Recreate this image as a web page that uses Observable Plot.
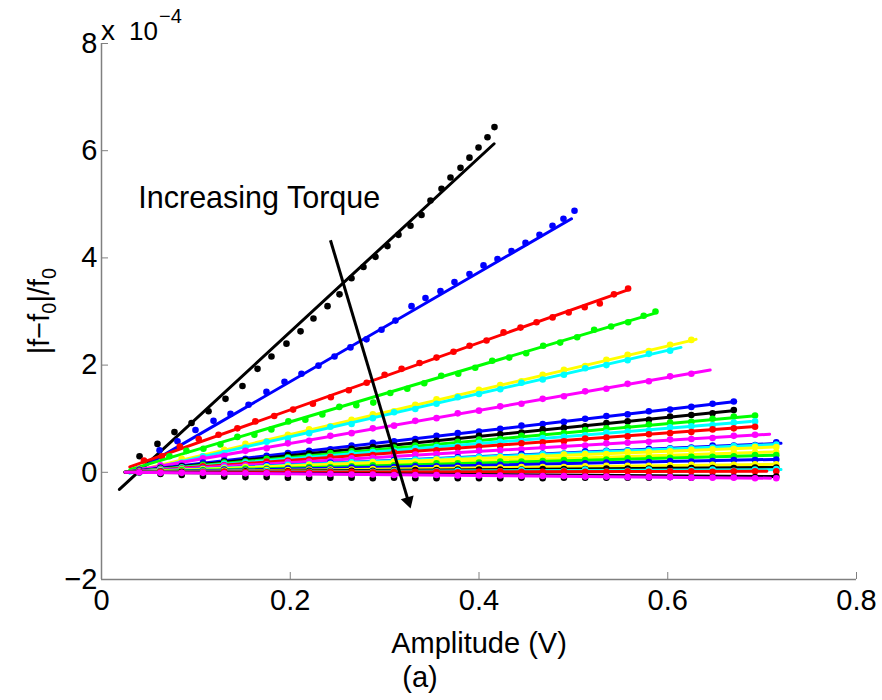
<!DOCTYPE html>
<html><head><meta charset="utf-8">
<script src="https://cdn.jsdelivr.net/npm/d3@7"></script>
<script src="https://cdn.jsdelivr.net/npm/@observablehq/plot@0.6"></script>
<style>
html,body{margin:0;padding:0;background:#fff;overflow:hidden;}
body{font-family:"Liberation Sans",Arial,Helvetica,sans-serif;}
#chart{position:absolute;left:0;top:0;}
#caption{position:absolute;left:0;top:660px;width:840px;text-align:center;font-size:29px;line-height:34px;color:#000;}
</style></head><body>
<div id="chart"></div>
<div id="caption">(a)</div>
<script>
// ---- axis ticks ----
const xTicks = [0, 0.2, 0.4, 0.6, 0.8];
const yTicks = [-2, 0, 2, 4, 6, 8];

// ---- series colors (steepest first) ----
const seriesColors = ["#000000","#0000ff","#ff0000","#00ff00","#ffff00","#00ffff","#ff00ff",
  "#0000ff","#000000","#00ff00","#00ffff","#ff0000","#ff00ff","#0000ff","#00ffff","#ffff00",
  "#ffff00","#00ff00","#0000ff","#ffff00","#000000","#00ffff","#ff0000","#000000","#ff00ff"];

// ---- linear fit lines (units of 1e-4) ----
const lineX0 = [0.019,0.040,0.030,0.030,0.030,0.030,0.025,
  0.025,0.025,0.025,0.025,0.025,0.025,0.025,0.025,0.025,0.025,0.025,0.025,0.025,0.025,0.025,0.025,0.025,0.025];
const lineY0 = [-0.32,0.06,0.10,0.05,0.00,-0.02,0.00,
  0,0,0,0,0,0,0,0,0,0,0,0,0,0,0,0,0,0];
const lineX1 = [0.416,0.498,0.557,0.585,0.630,0.614,0.645,
  0.672,0.669,0.690,0.688,0.689,0.708,0.720,0.715,0.712,0.712,0.714,0.712,0.714,0.712,0.720,0.705,0.712,0.709];
const lineY1 = [6.13,4.73,3.40,2.96,2.48,2.33,1.91,
  1.32,1.15,1.05,0.95,0.85,0.71,0.54,0.52,0.47,0.38,0.32,0.24,0.15,0.09,0.05,0.02,-0.08,-0.11];

// ---- measured points ----
const gridX = [0.04,0.0625,0.085,0.1075,0.13,0.1525,0.175,0.1975,0.22,0.2425,0.265,0.2875,0.31,0.3325,0.355,
  0.3775,0.4,0.4225,0.445,0.4675,0.49,0.5125,0.535,0.5575,0.58,0.6025,0.625,0.6475,0.67,0.6925,0.715];

const blackX = [0.0403,0.0593,0.0773,0.0954,0.1134,0.1314,0.1494,0.1653,0.1801,0.1960,0.2109,0.2246,0.2395,0.2522,
  0.2649,0.2776,0.2903,0.3030,0.3147,0.3274,0.3391,0.3486,0.3603,0.3698,0.3804,0.3899,0.3995,0.4090,0.4164];
const blackY = [0.30,0.53,0.75,0.92,1.14,1.37,1.61,1.93,2.16,2.40,2.63,2.87,3.10,3.32,3.62,3.83,4.02,4.22,4.43,
  4.60,4.80,5.07,5.29,5.50,5.68,5.87,6.06,6.25,6.44];

const blueX = [0.0615,0.0805,0.0996,0.1187,0.1367,0.1558,0.1748,0.1939,0.2119,0.2299,0.2469,0.2638,0.2808,0.2967,
  0.3115,0.3285,0.3433,0.3592,0.3740,0.3899,0.4048,0.4196,0.4344,0.4493,0.4641,0.4779,0.4895,0.5012];
const blueY = [0.41,0.58,0.79,0.96,1.09,1.26,1.50,1.69,1.84,1.99,2.16,2.33,2.48,2.66,2.83,3.10,3.25,3.38,3.55,
  3.70,3.86,3.98,4.13,4.28,4.43,4.60,4.73,4.88];

const redX = [0.045,0.064,0.083,0.103,0.124,0.144,0.163,0.183,0.203,0.224,0.243,0.262,0.281,0.300,0.318,0.337,
  0.355,0.373,0.390,0.408,0.426,0.444,0.461,0.478,0.495,0.512,0.528,0.543,0.558];
const redY = [0.22,0.30,0.48,0.62,0.70,0.82,0.95,1.05,1.17,1.28,1.40,1.53,1.67,1.82,1.93,2.04,2.14,2.25,2.36,
  2.46,2.61,2.70,2.80,2.89,2.98,3.08,3.15,3.32,3.43];

const greenX = [0.072,0.090,0.108,0.126,0.144,0.162,0.180,0.198,0.216,0.234,0.252,0.270,0.288,0.306,0.324,0.342,
  0.360,0.378,0.396,0.414,0.432,0.450,0.468,0.486,0.504,0.522,0.540,0.558,0.5745,0.587];
const greenY = [0.30,0.40,0.44,0.52,0.66,0.70,0.80,0.95,0.98,1.08,1.22,1.25,1.30,1.48,1.56,1.66,1.80,1.84,1.95,
  2.08,2.14,2.22,2.36,2.42,2.52,2.66,2.72,2.80,2.92,3.00];

const yellowY = [0.06,0.12,0.25,0.30,0.42,0.53,0.58,0.70,0.80,0.86,0.98,1.08,1.14,1.26,1.36,1.42,1.54,1.63,1.70,
  1.82,1.91,1.98,2.10,2.19,2.26,2.38,2.47];
const cyanY = [0.03,0.10,0.18,0.30,0.36,0.46,0.57,0.63,0.73,0.85,0.90,1.01,1.12,1.18,1.28,1.40,1.46,1.55,1.67,
  1.73,1.82,1.94,2.00,2.09,2.21,2.27];
const magentaY = [0.04,0.13,0.17,0.26,0.31,0.40,0.45,0.54,0.59,0.68,0.73,0.82,0.87,0.96,1.01,1.10,1.15,1.23,1.28,
  1.37,1.42,1.51,1.56,1.65,1.70,1.79,1.84];

const low1Y = [0.05,0.09,0.12,0.18,0.22,0.25,0.31,0.36,0.40,0.43,0.50,0.55,0.58,0.62,0.68,0.73,0.76,0.81,0.87,0.90,
  0.94,1.00,1.05,1.08,1.14,1.17,1.22,1.28,1.32];
const low2Y = [0.02,0.08,0.11,0.14,0.20,0.23,0.26,0.32,0.35,0.38,0.44,0.47,0.50,0.56,0.59,0.62,0.68,0.71,0.74,0.80,
  0.83,0.86,0.92,0.95,0.98,1.04,1.07,1.10,1.16];
const low3Y = [0.03,0.07,0.09,0.14,0.18,0.20,0.25,0.28,0.30,0.36,0.39,0.41,0.46,0.50,0.51,0.57,0.61,0.62,0.68,0.71,
  0.73,0.79,0.82,0.84,0.89,0.93,0.94,1.00,1.04,1.06];
const low4Y = [0.01,0.06,0.09,0.11,0.16,0.18,0.20,0.26,0.28,0.30,0.35,0.38,0.40,0.45,0.47,0.49,0.55,0.57,0.59,0.64,
  0.66,0.69,0.74,0.76,0.78,0.84,0.86,0.88,0.93,0.95];
const low5Y = [0.03,0.05,0.07,0.11,0.13,0.15,0.20,0.22,0.24,0.29,0.30,0.32,0.37,0.39,0.41,0.46,0.48,0.49,0.54,0.56,
  0.58,0.63,0.65,0.67,0.71,0.73,0.75,0.80,0.82,0.85];
const low6Y = [0.01,0.05,0.06,0.08,0.12,0.13,0.15,0.19,0.20,0.22,0.26,0.27,0.29,0.33,0.34,0.36,0.40,0.41,0.43,0.47,
  0.48,0.50,0.54,0.55,0.57,0.61,0.62,0.64,0.68,0.70];
const low7Y = [0.02,0.03,0.04,0.07,0.08,0.09,0.13,0.13,0.14,0.18,0.19,0.19,0.23,0.24,0.25,0.28,0.29,0.30,0.34,0.35,
  0.35,0.39,0.40,0.41,0.44,0.45,0.46,0.50,0.50,0.51,0.56];
const low8Y = [0.01,0.04,0.05,0.06,0.09,0.10,0.11,0.14,0.15,0.16,0.19,0.20,0.21,0.24,0.25,0.26,0.29,0.30,0.31,0.34,
  0.35,0.36,0.39,0.40,0.41,0.44,0.45,0.46,0.49,0.50,0.52];
const low9Y = [0.01,0.03,0.05,0.06,0.07,0.10,0.10,0.11,0.14,0.15,0.16,0.19,0.20,0.20,0.24,0.24,0.25,0.28,0.29,0.30,
  0.33,0.34,0.34,0.38,0.38,0.39,0.42,0.43,0.44,0.47,0.47];
const low10Y = [0.00,0.03,0.03,0.04,0.07,0.07,0.08,0.10,0.11,0.11,0.14,0.14,0.15,0.18,0.18,0.19,0.22,0.22,0.22,0.25,
  0.26,0.26,0.29,0.29,0.30,0.33,0.33,0.33,0.36,0.37,0.38];
const low11Y = [0.01,0.02,0.04,0.04,0.05,0.07,0.07,0.08,0.10,0.10,0.11,0.13,0.13,0.14,0.17,0.17,0.18,0.20,0.20,0.21,
  0.23,0.23,0.24,0.26,0.26,0.27,0.29,0.29,0.30,0.32,0.32];
const low12Y = [0.01,0.02,0.02,0.03,0.05,0.04,0.05,0.07,0.07,0.07,0.09,0.09,0.10,0.11,0.11,0.12,0.14,0.14,0.14,0.16,
  0.16,0.17,0.18,0.18,0.19,0.21,0.20,0.21,0.23,0.23,0.24];
const low13Y = [0.01,0.01,0.02,0.02,0.03,0.03,0.04,0.04,0.05,0.05,0.05,0.06,0.06,0.07,0.08,0.08,0.08,0.09,0.10,0.10,
  0.10,0.11,0.12,0.12,0.12,0.13,0.14,0.14,0.14,0.15,0.15];
const low14Y = [0.00,0.01,0.01,0.01,0.01,0.02,0.02,0.02,0.03,0.03,0.03,0.03,0.04,0.04,0.04,0.05,0.05,0.05,0.05,0.06,
  0.06,0.06,0.07,0.07,0.07,0.08,0.08,0.08,0.08,0.09,0.09];
const low15Y = [-0.01,0.00,-0.02,0.01,-0.02,0.00,0.02,-0.03,0.01,0.02,-0.03,0.01,0.03,-0.02,0.02,0.03,-0.01,0.02,0.04,0.00,
  0.03,0.05,0.01,0.03,0.05,0.02,0.04,0.05,0.03,0.05,0.06];
const low16Y = [0.00,0.01,-0.01,0.00,0.01,0.00,0.00,0.01,0.00,0.01,0.01,0.00,0.01,0.01,0.01,0.00,0.01,0.02,0.01,0.01,
  0.02,0.01,0.01,0.02,0.01,0.02,0.02,0.01,0.02,0.02,0.02];
const low17Y = [0.00,-0.03,-0.05,-0.07,-0.08,-0.09,-0.09,-0.10,-0.10,-0.10,-0.10,-0.11,-0.10,-0.11,-0.11,-0.11,-0.11,-0.11,-0.10,-0.11,
  -0.10,-0.10,-0.10,-0.10,-0.10,-0.09,-0.10,-0.09,-0.09,-0.09,-0.08];
const low18Y = [0.00,-0.01,-0.01,-0.01,-0.02,-0.02,-0.02,-0.03,-0.03,-0.03,-0.04,-0.04,-0.05,-0.05,-0.05,-0.06,-0.06,-0.06,-0.07,-0.07,
  -0.07,-0.08,-0.08,-0.09,-0.09,-0.09,-0.10,-0.10,-0.10,-0.11,-0.11];

const dotXs = [blackX, blueX, redX, greenX, gridX, gridX, gridX,
  gridX,gridX,gridX,gridX,gridX,gridX,gridX,gridX,gridX,gridX,gridX,gridX,gridX,gridX,gridX,gridX,gridX,gridX];
const dotYs = [blackY, blueY, redY, greenY, yellowY, cyanY, magentaY,
  low1Y,low2Y,low3Y,low4Y,low5Y,low6Y,low7Y,low8Y,low9Y,low10Y,low11Y,low12Y,low13Y,low14Y,low15Y,low16Y,low17Y,low18Y];

// ---- annotation ----
const annotationText = ["Increasing Torque"];
const annotationX = [0.039];
const annotationY = [5.11];
const arrowX1 = [0.2426], arrowY1 = [4.33];
const arrowX2 = [0.3251], arrowY2 = [-0.537];   // arrow-head centre
const arrowHeadAngle = [163];

const fits = seriesColors.map((c, i) => ({x0: lineX0[i], y0: lineY0[i], x1: lineX1[i], y1: lineY1[i], color: c}));
const marks = [];
seriesColors.forEach((c, i) => {
  const pts = dotYs[i].map((y, j) => ({x: dotXs[i][j], y}));
  marks.push(Plot.dot(pts, {x: "x", y: "y", r: 3.3, fill: c}));
  marks.push(Plot.link([fits[i]], {x1: "x0", y1: "y0", x2: "x1", y2: "y1", stroke: c, strokeWidth: 3, strokeLinecap: "round"}));
});

const arrowData = arrowX1.map((d, i) => ({x1: arrowX1[i], y1: arrowY1[i], x2: arrowX2[i], y2: arrowY2[i], a: arrowHeadAngle[i]}));
const annData = annotationText.map((t, i) => ({t, x: annotationX[i], y: annotationY[i]}));

const gray = "#808080";
const chart = Plot.plot({
  width: 882, height: 660,
  marginLeft: 101, marginRight: 26, marginTop: 43, marginBottom: 81,
  style: {fontFamily: "'Liberation Sans', Arial, Helvetica, sans-serif", fontSize: "29px", background: "white", color: "black", overflow: "visible"},
  x: {domain: [0, 0.8], ticks: xTicks},
  y: {domain: [-2, 8], ticks: yTicks},
  marks: [
    ...marks,
    Plot.link(arrowData, {x1: "x1", y1: "y1", x2: "x2", y2: "y2", stroke: "black", strokeWidth: 3}),
    Plot.dot(arrowData, {x: "x2", y: "y2", symbol: "triangle", r: 5, fill: "black", rotate: "a"}),
    Plot.text(annData, {x: "x", y: "y", text: "t", textAnchor: "start", lineAnchor: "middle", fontSize: 30.5, fill: "black"}),
    Plot.ruleX([0], {stroke: gray, strokeWidth: 1.5}),
    Plot.ruleY([-2], {stroke: gray, strokeWidth: 1.5}),
    Plot.axisX({ticks: xTicks, tickSize: -7, tickPadding: 17, stroke: gray, fill: "black", tickFormat: d => String(d), label: null}),
    Plot.axisY({ticks: yTicks, tickSize: -7, tickPadding: 11, stroke: gray, fill: "black", tickFormat: d => (d < 0 ? "\u2212" + Math.abs(d) : String(d)), label: null}),
    Plot.text(["Amplitude (V)"], {frameAnchor: "bottom", dy: 64, lineAnchor: "middle", fontSize: 29, fill: "black"})
  ]
});
document.getElementById("chart").appendChild(chart);

// y-axis label with subscripts, and the exponent label
const svg = d3.select(chart);
const yl = svg.append("text")
  .attr("transform", "translate(49,311) rotate(-90)")
  .attr("text-anchor", "middle")
  .attr("font-size", 29)
  .attr("fill", "black");
yl.append("tspan").text("|f\u2212f");
yl.append("tspan").attr("font-size", 20).attr("dy", 7).text("0");
yl.append("tspan").attr("dy", -7).text("|/f");
yl.append("tspan").attr("font-size", 20).attr("dy", 7).text("0");

const ex = svg.append("g").attr("fill", "black").attr("text-anchor", "start");
ex.append("text").attr("x", 101).attr("y", 40).style("font-size", "28px").text("x");
ex.append("text").attr("x", 129).attr("y", 40).style("font-size", "26px").text("10");
ex.append("text").attr("x", 159).attr("y", 23).style("font-size", "20px").text("\u22124");
</script>
</body></html>
